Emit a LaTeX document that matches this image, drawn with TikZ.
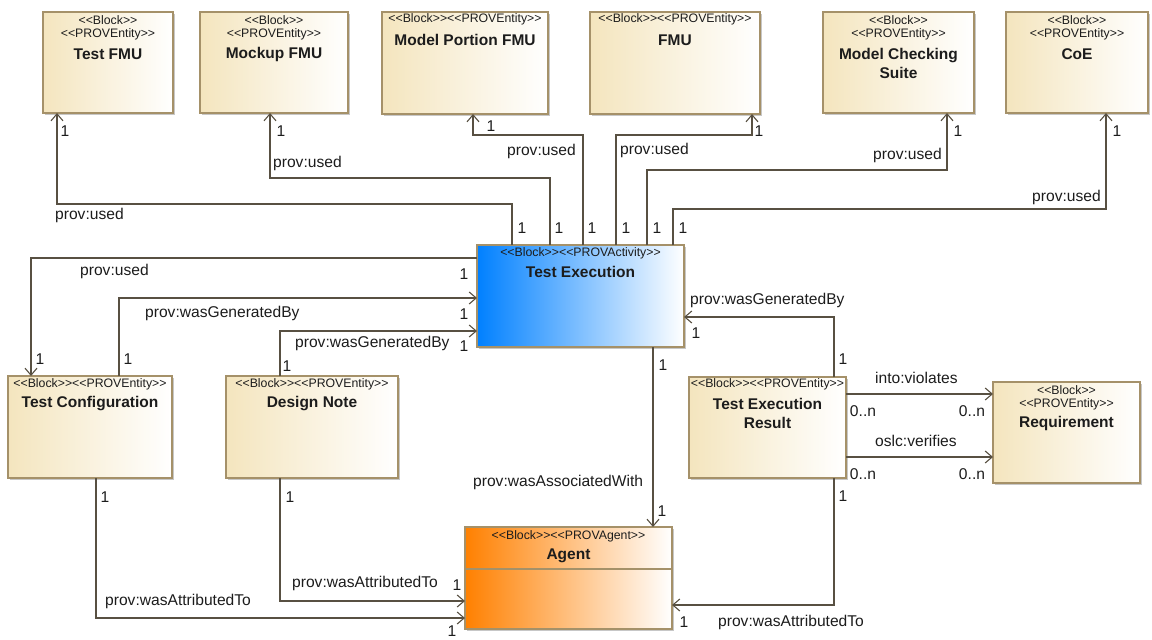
\documentclass[tikz,border=0pt]{standalone}
\usepackage{fontspec}
\setmainfont{Liberation Sans}
\usetikzlibrary{arrows.meta,shadows}

\definecolor{edge}{RGB}{88,80,66}
\definecolor{boxline}{RGB}{165,145,105}
\definecolor{tan}{RGB}{244,229,190}
\definecolor{actblue}{RGB}{0,128,255}
\definecolor{agentorange}{RGB}{255,128,0}
\definecolor{ink}{RGB}{28,28,28}

% stereotype text, kept apart from the << >> ligatures
\newcommand\stype[1]{<\kern0pt<#1>\kern0pt>}

\begin{document}
\begin{tikzpicture}[x=1pt,y=-1pt,
  box/.style={draw=boxline, line width=1.3pt, inner sep=0pt, outer sep=0pt,
    drop shadow={shadow xshift=2pt, shadow yshift=-2pt, opacity=0.22, fill=black}},
  entity/.style={box, left color=tan, right color=white},
  activity/.style={box, left color=actblue, right color=white},
  agentbox/.style={box, left color=agentorange, right color=white},
  stereo/.style={font=\fontsize{12.3}{12}\selectfont, text=ink, inner sep=0pt},
  bname/.style={font=\bfseries\fontsize{15.5}{19}\selectfont, text=ink, inner sep=0pt, align=center},
  lbl/.style={font=\fontsize{15.6}{15}\selectfont, text=ink, inner sep=0pt, anchor=west},
  mult/.style={font=\fontsize{15.6}{15}\selectfont, text=ink, inner sep=0pt},
  conn/.style={draw=edge, line width=1.2pt},
  tipend/.style={-{Straight Barb[length=7pt,width=12pt,line width=1.1pt]}},
]
\useasboundingbox (0,0) rectangle (1152,640);

% ---------- blocks ----------
\node[entity, minimum width=130pt, minimum height=101pt] (testfmu) at (108,62.5) {};
\node[stereo, yshift=-8pt] (testfmu-s1) at (testfmu.north) {\stype{Block}};
\node[stereo, yshift=-22pt] (testfmu-s2) at (testfmu.north) {\stype{PROVEntity}};
\node[bname, yshift=-42pt] (testfmu-n) at (testfmu.north) {Test FMU};

\node[entity, minimum width=148pt, minimum height=101pt] (mockup) at (274,62.5) {};
\node[stereo, yshift=-8pt] (mockup-s1) at (mockup.north) {\stype{Block}};
\node[stereo, yshift=-22pt] (mockup-s2) at (mockup.north) {\stype{PROVEntity}};
\node[bname, yshift=-42pt] (mockup-n) at (mockup.north) {Mockup FMU};

\node[entity, minimum width=166pt, minimum height=102pt] (portion) at (465,63) {};
\node[stereo, yshift=-7pt] (portion-s) at (portion.north) {\stype{Block}\stype{PROVEntity}};
\node[bname, yshift=-28pt] (portion-n) at (portion.north) {Model Portion FMU};

\node[entity, minimum width=170pt, minimum height=102pt] (fmu) at (675,63) {};
\node[stereo, yshift=-7pt] (fmu-s) at (fmu.north) {\stype{Block}\stype{PROVEntity}};
\node[bname, yshift=-28pt] (fmu-n) at (fmu.north) {FMU};

\node[entity, minimum width=151pt, minimum height=101pt] (mcs) at (898.5,62.5) {};
\node[stereo, yshift=-8pt] (mcs-s1) at (mcs.north) {\stype{Block}};
\node[stereo, yshift=-22pt] (mcs-s2) at (mcs.north) {\stype{PROVEntity}};
\node[bname, yshift=-51.5pt] (mcs-n) at (mcs.north) {Model Checking\\Suite};

\node[entity, minimum width=142pt, minimum height=101pt] (coe) at (1077,62.5) {};
\node[stereo, yshift=-8pt] (coe-s1) at (coe.north) {\stype{Block}};
\node[stereo, yshift=-22pt] (coe-s2) at (coe.north) {\stype{PROVEntity}};
\node[bname, yshift=-42pt] (coe-n) at (coe.north) {CoE};

\node[activity, minimum width=207pt, minimum height=102pt] (te) at (580.5,296) {};
\node[stereo, yshift=-8pt] (te-s) at (te.north) {\stype{Block}\stype{PROVActivity}};
\node[bname, yshift=-27pt] (te-n) at (te.north) {Test Execution};

\node[entity, minimum width=164pt, minimum height=102pt] (tc) at (90,427) {};
\node[stereo, yshift=-8pt] (tc-s) at (tc.north) {\stype{Block}\stype{PROVEntity}};
\node[bname, yshift=-28pt] (tc-n) at (tc.north) {Test Configuration};

\node[entity, minimum width=172pt, minimum height=102pt] (dn) at (312,427) {};
\node[stereo, yshift=-8pt] (dn-s) at (dn.north) {\stype{Block}\stype{PROVEntity}};
\node[bname, yshift=-28pt] (dn-n) at (dn.north) {Design Note};

\node[entity, minimum width=157pt, minimum height=101pt] (ter) at (767.5,427.5) {};
\node[stereo, yshift=-7pt] (ter-s) at (ter.north) {\stype{Block}\stype{PROVEntity}};
\node[bname, yshift=-36.5pt] (ter-n) at (ter.north) {Test Execution\\Result};

\node[entity, minimum width=147pt, minimum height=101pt] (req) at (1066.5,432.5) {};
\node[stereo, yshift=-8pt] (req-s1) at (req.north) {\stype{Block}};
\node[stereo, yshift=-22pt] (req-s2) at (req.north) {\stype{PROVEntity}};
\node[bname, yshift=-41pt] (req-n) at (req.north) {Requirement};

\node[agentbox, minimum width=207pt, minimum height=102pt] (agent) at (568.5,578) {};
\draw[draw=boxline, line width=1.3pt] (agent.west |- 0,569) -- (agent.east |- 0,569);
\node[stereo, yshift=-9pt] (agent-s) at (agent.north) {\stype{Block}\stype{PROVAgent}};
\node[bname, yshift=-29pt] (agent-n) at (agent.north) {Agent};

% ---------- connectors ----------
% Test Execution uses the six top entities
\draw[conn, tipend] (512,0 |- te.north) -- (512,204) -| (57,0 |- testfmu.south);
\draw[conn, tipend] (550,0 |- te.north) -- (550,178) -| (270,0 |- mockup.south);
\draw[conn, tipend] (583,0 |- te.north) -- (583,135) -| (473,0 |- portion.south);
\draw[conn, tipend] (616,0 |- te.north) -- (616,135) -| (752,0 |- fmu.south);
\draw[conn, tipend] (647,0 |- te.north) -- (647,170) -| (947,0 |- mcs.south);
\draw[conn, tipend] (673,0 |- te.north) -- (673,209) -| (1106,0 |- coe.south);

% left side
\draw[conn, tipend] (te.west |- 0,258) -| (31,0 |- tc.north);
\draw[conn, tipend] (119,0 |- tc.north) |- (te.west |- 0,298);
\draw[conn, tipend] (280,0 |- dn.north) |- (te.west |- 0,331);

% right side
\draw[conn, tipend] (834,0 |- ter.north) |- (te.east |- 0,317);
\draw[conn, tipend] (ter.east |- 0,394) -- (req.west |- 0,394);
\draw[conn, tipend] (ter.east |- 0,457) -- (req.west |- 0,457);

% towards the agent
\draw[conn, tipend] (653,0 |- te.south) -- (653,0 |- agent.north);
\draw[conn, tipend] (96,0 |- tc.south) |- (agent.west |- 0,618);
\draw[conn, tipend] (280,0 |- dn.south) |- (agent.west |- 0,601);
\draw[conn, tipend] (834,0 |- ter.south) |- (agent.east |- 0,605);

% ---------- connector labels ----------
\node[lbl] (l-used1) at (55,215) {prov:used};
\node[lbl] (l-used2) at (273,163) {prov:used};
\node[lbl] (l-used3) at (507,151) {prov:used};
\node[lbl] (l-used4) at (620,150) {prov:used};
\node[lbl] (l-used5) at (873,155) {prov:used};
\node[lbl] (l-used6) at (1032,197) {prov:used};
\node[lbl] (l-used7) at (80,271) {prov:used};
\node[lbl] (l-gen1) at (145,313) {prov:wasGeneratedBy};
\node[lbl] (l-gen2) at (295,343) {prov:wasGeneratedBy};
\node[lbl] (l-gen3) at (690,300) {prov:wasGeneratedBy};
\node[lbl] (l-assoc) at (473,482) {prov:wasAssociatedWith};
\node[lbl] (l-attr1) at (105,601) {prov:wasAttributedTo};
\node[lbl] (l-attr2) at (292,583) {prov:wasAttributedTo};
\node[lbl] (l-attr3) at (718,622) {prov:wasAttributedTo};
\node[lbl] (l-viol) at (875,378) {into:violates};
\node[lbl] (l-verif) at (875,441) {oslc:verifies};

% ---------- multiplicities ----------
\foreach \mx/\my [count=\i] in {65/131, 281/131, 491/126, 759/131, 958/131, 1117/131,
    522/228, 559/228, 592/228, 626/228, 657/228, 683/228,
    464/274, 464/314, 464/346,
    40/359, 128/359, 287/366,
    663/365, 662/511,
    843/359, 843/496, 696/333, 684/622,
    105/497, 290/497, 457/585, 452/631}
  \node[mult] (m\i) at (\mx,\my) {1};
\node[mult] (n1) at (863,411) {0..n};
\node[mult] (n2) at (972,411) {0..n};
\node[mult] (n3) at (863,474) {0..n};
\node[mult] (n4) at (972,474) {0..n};
\end{tikzpicture}
\end{document}
